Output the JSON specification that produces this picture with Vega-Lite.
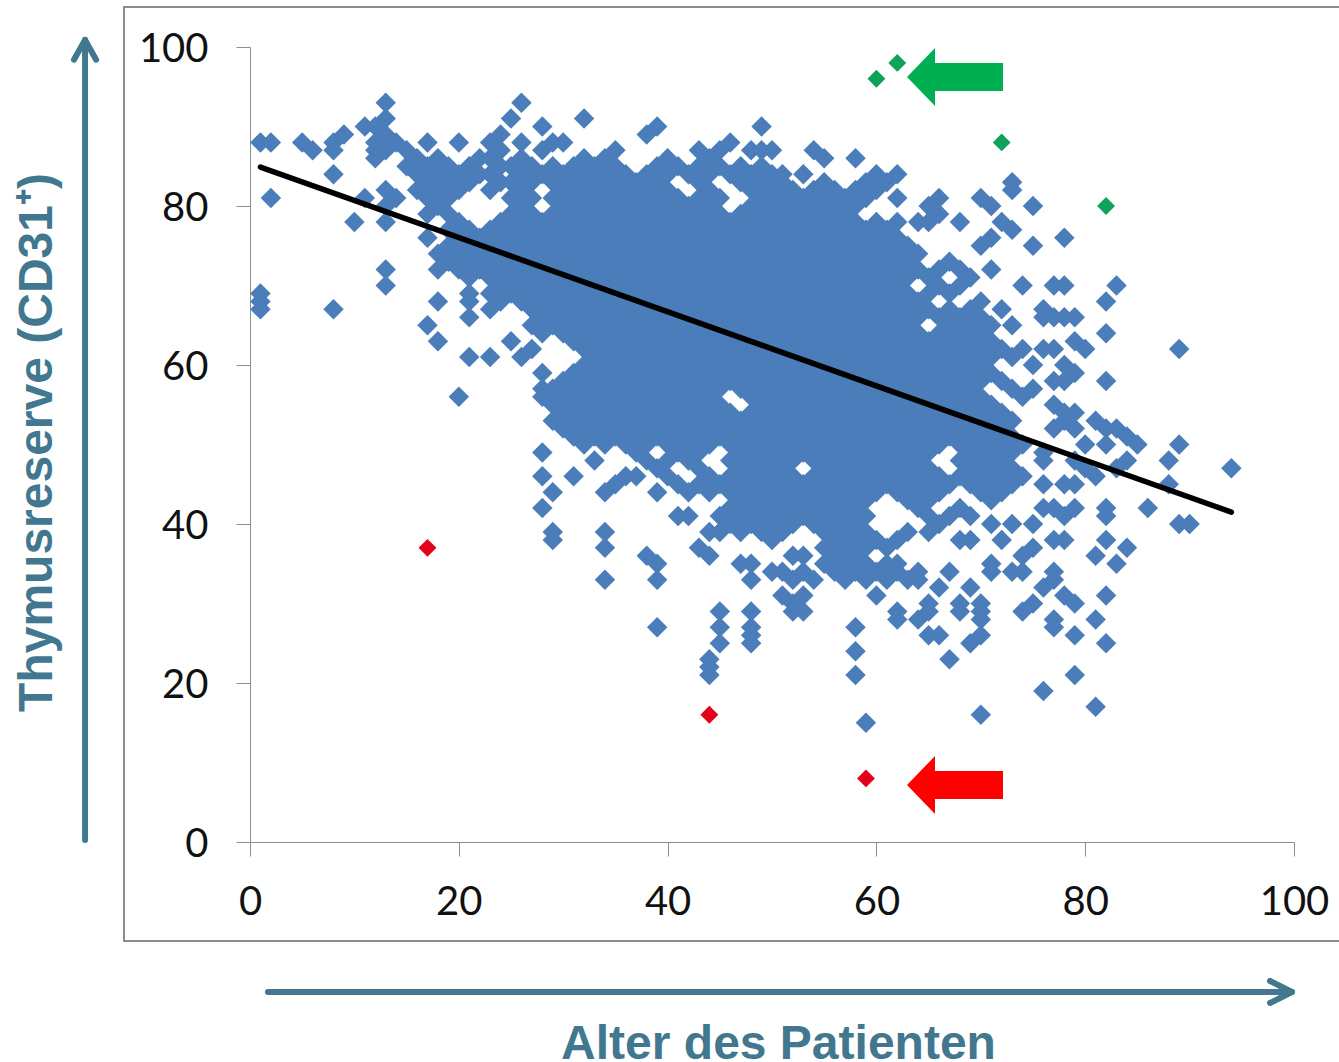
{"$schema":"https://vega.github.io/schema/vega-lite/v6.json","width":1044,"height":795,"autosize":"none","padding":{"left":250,"top":47,"right":45,"bottom":220},"background":"white","config":{"view":{"stroke":null}},
"datasets":{
"frame":[{"a":-12.07,"a2":115,"t":105.03,"t2":-12.45}],
"trend":[{"a":1,"t":84.9},{"a":94,"t":41.5}],
"marked":[{"a":60,"t":96,"s":"g"},{"a":62,"t":98,"s":"g"},{"a":72,"t":88,"s":"g"},{"a":82,"t":80,"s":"g"},{"a":17,"t":37,"s":"r"},{"a":44,"t":16,"s":"r"},{"a":59,"t":8,"s":"r"}],
"block":[{"a":67.53,"t":96.23,"s":"g2"},{"a":67.53,"t":7.17,"s":"r2"}],
"axisarrows":[{"a":1.72,"t":-18.87,"o":1,"k":"h"},{"a":99.8,"t":-18.87,"o":2,"k":"h"},{"a":97.7,"t":-17.48,"o":1,"k":"hh"},{"a":99.8,"t":-18.87,"o":2,"k":"hh"},{"a":97.7,"t":-20.25,"o":3,"k":"hh"},{"a":-15.8,"t":0.25,"o":1,"k":"v"},{"a":-15.8,"t":100.9,"o":2,"k":"v"},{"a":-16.86,"t":98.4,"o":1,"k":"vh"},{"a":-15.8,"t":100.9,"o":2,"k":"vh"},{"a":-14.74,"t":98.4,"o":3,"k":"vh"}],
"p":[
{"a":1,"t":88},{"a":1,"t":69},{"a":1,"t":68},{"a":1,"t":67},{"a":2,"t":88},{"a":2,"t":81},{"a":5,"t":88},{"a":6,"t":87},{"a":8,"t":88},{"a":8,"t":87},{"a":8,"t":84},{"a":8,"t":67},{"a":9,"t":89},{"a":10,"t":78},{"a":11,"t":90},{"a":11,"t":81},{"a":12,"t":90},{"a":12,"t":88},{"a":12,"t":87},{"a":12,"t":86},
{"a":13,"t":93},{"a":13,"t":91},{"a":13,"t":89},{"a":13,"t":87},{"a":13,"t":82},{"a":13,"t":80},{"a":13,"t":78},{"a":13,"t":72},{"a":13,"t":70},{"a":14,"t":88},{"a":14,"t":81},{"a":15,"t":87},{"a":15,"t":85},{"a":16,"t":86},{"a":16,"t":84},{"a":16,"t":82},
{"a":17,"t":88},{"a":17,"t":85},{"a":17,"t":83},{"a":17,"t":81},{"a":17,"t":79},{"a":17,"t":76},{"a":17,"t":65},{"a":18,"t":86},{"a":18,"t":84},{"a":18,"t":82},{"a":18,"t":80},{"a":18,"t":74},{"a":18,"t":72},{"a":18,"t":68},{"a":18,"t":63},
{"a":19,"t":85},{"a":19,"t":83},{"a":19,"t":81},{"a":19,"t":79},{"a":19,"t":77},{"a":19,"t":75},{"a":19,"t":73},{"a":20,"t":88},{"a":20,"t":84},{"a":20,"t":82},{"a":20,"t":78},{"a":20,"t":76},{"a":20,"t":74},{"a":20,"t":72},{"a":20,"t":56},
{"a":21,"t":85},{"a":21,"t":83},{"a":21,"t":77},{"a":21,"t":75},{"a":21,"t":73},{"a":21,"t":71},{"a":21,"t":69},{"a":21,"t":68},{"a":21,"t":66},{"a":21,"t":61},{"a":22,"t":86},{"a":22,"t":84},{"a":22,"t":76},{"a":22,"t":74},{"a":22,"t":72},
{"a":23,"t":88},{"a":23,"t":86},{"a":23,"t":84},{"a":23,"t":82},{"a":23,"t":77},{"a":23,"t":75},{"a":23,"t":73},{"a":23,"t":71},{"a":23,"t":69},{"a":23,"t":67},{"a":23,"t":61},
{"a":24,"t":89},{"a":24,"t":87},{"a":24,"t":85},{"a":24,"t":83},{"a":24,"t":78},{"a":24,"t":76},{"a":24,"t":74},{"a":24,"t":72},{"a":24,"t":70},{"a":24,"t":68},
{"a":25,"t":91},{"a":25,"t":85},{"a":25,"t":83},{"a":25,"t":81},{"a":25,"t":79},{"a":25,"t":77},{"a":25,"t":75},{"a":25,"t":73},{"a":25,"t":71},{"a":25,"t":69},{"a":25,"t":63},
{"a":26,"t":93},{"a":26,"t":88},{"a":26,"t":86},{"a":26,"t":84},{"a":26,"t":82},{"a":26,"t":80},{"a":26,"t":78},{"a":26,"t":76},{"a":26,"t":74},{"a":26,"t":72},{"a":26,"t":70},{"a":26,"t":68},{"a":26,"t":61},
{"a":27,"t":85},{"a":27,"t":83},{"a":27,"t":81},{"a":27,"t":79},{"a":27,"t":77},{"a":27,"t":75},{"a":27,"t":73},{"a":27,"t":71},{"a":27,"t":69},{"a":27,"t":67},{"a":27,"t":65},{"a":27,"t":62},
{"a":28,"t":90},{"a":28,"t":87},{"a":28,"t":84},{"a":28,"t":78},{"a":28,"t":76},{"a":28,"t":74},{"a":28,"t":72},{"a":28,"t":70},{"a":28,"t":68},{"a":28,"t":66},{"a":28,"t":64},{"a":28,"t":59},{"a":28,"t":57},{"a":28,"t":56},{"a":28,"t":49},{"a":28,"t":46},{"a":28,"t":42},
{"a":29,"t":88},{"a":29,"t":85},{"a":29,"t":83},{"a":29,"t":81},{"a":29,"t":79},{"a":29,"t":77},{"a":29,"t":75},{"a":29,"t":73},{"a":29,"t":71},{"a":29,"t":69},{"a":29,"t":67},{"a":29,"t":65},{"a":29,"t":57},{"a":29,"t":55},{"a":29,"t":53},{"a":29,"t":44},{"a":29,"t":39},{"a":29,"t":38},
{"a":30,"t":88},{"a":30,"t":84},{"a":30,"t":82},{"a":30,"t":80},{"a":30,"t":78},{"a":30,"t":76},{"a":30,"t":74},{"a":30,"t":72},{"a":30,"t":70},{"a":30,"t":68},{"a":30,"t":66},{"a":30,"t":64},{"a":30,"t":58},{"a":30,"t":56},{"a":30,"t":54},{"a":30,"t":52},
{"a":31,"t":85},{"a":31,"t":83},{"a":31,"t":81},{"a":31,"t":79},{"a":31,"t":77},{"a":31,"t":75},{"a":31,"t":73},{"a":31,"t":71},{"a":31,"t":69},{"a":31,"t":67},{"a":31,"t":65},{"a":31,"t":63},{"a":31,"t":59},{"a":31,"t":57},{"a":31,"t":55},{"a":31,"t":53},{"a":31,"t":51},{"a":31,"t":46},
{"a":32,"t":91},{"a":32,"t":86},{"a":32,"t":84},{"a":32,"t":82},{"a":32,"t":80},{"a":32,"t":78},{"a":32,"t":76},{"a":32,"t":74},{"a":32,"t":72},{"a":32,"t":70},{"a":32,"t":68},{"a":32,"t":66},{"a":32,"t":64},{"a":32,"t":62},{"a":32,"t":60},{"a":32,"t":58},{"a":32,"t":56},{"a":32,"t":54},{"a":32,"t":52},{"a":32,"t":50},
{"a":33,"t":85},{"a":33,"t":83},{"a":33,"t":81},{"a":33,"t":79},{"a":33,"t":77},{"a":33,"t":75},{"a":33,"t":73},{"a":33,"t":71},{"a":33,"t":69},{"a":33,"t":67},{"a":33,"t":65},{"a":33,"t":63},{"a":33,"t":61},{"a":33,"t":59},{"a":33,"t":57},{"a":33,"t":55},{"a":33,"t":53},{"a":33,"t":51},{"a":33,"t":48},
{"a":34,"t":86},{"a":34,"t":84},{"a":34,"t":82},{"a":34,"t":80},{"a":34,"t":78},{"a":34,"t":76},{"a":34,"t":74},{"a":34,"t":72},{"a":34,"t":70},{"a":34,"t":68},{"a":34,"t":66},{"a":34,"t":64},{"a":34,"t":62},{"a":34,"t":60},{"a":34,"t":58},{"a":34,"t":56},{"a":34,"t":54},{"a":34,"t":52},{"a":34,"t":50},{"a":34,"t":44},{"a":34,"t":39},{"a":34,"t":37},{"a":34,"t":33},
{"a":35,"t":87},{"a":35,"t":85},{"a":35,"t":83},{"a":35,"t":81},{"a":35,"t":79},{"a":35,"t":77},{"a":35,"t":75},{"a":35,"t":73},{"a":35,"t":71},{"a":35,"t":69},{"a":35,"t":67},{"a":35,"t":65},{"a":35,"t":63},{"a":35,"t":61},{"a":35,"t":59},{"a":35,"t":57},{"a":35,"t":55},{"a":35,"t":53},{"a":35,"t":51},{"a":35,"t":45},
{"a":36,"t":84},{"a":36,"t":82},{"a":36,"t":80},{"a":36,"t":78},{"a":36,"t":76},{"a":36,"t":74},{"a":36,"t":72},{"a":36,"t":70},{"a":36,"t":68},{"a":36,"t":66},{"a":36,"t":64},{"a":36,"t":62},{"a":36,"t":60},{"a":36,"t":58},{"a":36,"t":56},{"a":36,"t":54},{"a":36,"t":52},{"a":36,"t":50},{"a":36,"t":46},
{"a":37,"t":83},{"a":37,"t":81},{"a":37,"t":79},{"a":37,"t":77},{"a":37,"t":75},{"a":37,"t":73},{"a":37,"t":71},{"a":37,"t":69},{"a":37,"t":67},{"a":37,"t":65},{"a":37,"t":63},{"a":37,"t":61},{"a":37,"t":59},{"a":37,"t":57},{"a":37,"t":55},{"a":37,"t":53},{"a":37,"t":51},{"a":37,"t":49},{"a":37,"t":46},
{"a":38,"t":89},{"a":38,"t":84},{"a":38,"t":82},{"a":38,"t":80},{"a":38,"t":78},{"a":38,"t":76},{"a":38,"t":74},{"a":38,"t":72},{"a":38,"t":70},{"a":38,"t":68},{"a":38,"t":66},{"a":38,"t":64},{"a":38,"t":62},{"a":38,"t":60},{"a":38,"t":58},{"a":38,"t":56},{"a":38,"t":54},{"a":38,"t":52},{"a":38,"t":50},{"a":38,"t":48},{"a":38,"t":36},
{"a":39,"t":90},{"a":39,"t":85},{"a":39,"t":83},{"a":39,"t":81},{"a":39,"t":79},{"a":39,"t":77},{"a":39,"t":75},{"a":39,"t":73},{"a":39,"t":71},{"a":39,"t":69},{"a":39,"t":67},{"a":39,"t":65},{"a":39,"t":63},{"a":39,"t":61},{"a":39,"t":59},{"a":39,"t":57},{"a":39,"t":55},{"a":39,"t":53},{"a":39,"t":51},{"a":39,"t":47},{"a":39,"t":44},{"a":39,"t":35},{"a":39,"t":33},{"a":39,"t":27},
{"a":40,"t":86},{"a":40,"t":84},{"a":40,"t":82},{"a":40,"t":80},{"a":40,"t":78},{"a":40,"t":76},{"a":40,"t":74},{"a":40,"t":72},{"a":40,"t":70},{"a":40,"t":68},{"a":40,"t":66},{"a":40,"t":64},{"a":40,"t":62},{"a":40,"t":60},{"a":40,"t":58},{"a":40,"t":56},{"a":40,"t":54},{"a":40,"t":52},{"a":40,"t":50},{"a":40,"t":48},{"a":40,"t":46},
{"a":41,"t":85},{"a":41,"t":81},{"a":41,"t":79},{"a":41,"t":77},{"a":41,"t":75},{"a":41,"t":73},{"a":41,"t":71},{"a":41,"t":69},{"a":41,"t":67},{"a":41,"t":65},{"a":41,"t":63},{"a":41,"t":61},{"a":41,"t":59},{"a":41,"t":57},{"a":41,"t":55},{"a":41,"t":53},{"a":41,"t":51},{"a":41,"t":49},{"a":41,"t":45},{"a":41,"t":41},
{"a":42,"t":84},{"a":42,"t":80},{"a":42,"t":78},{"a":42,"t":76},{"a":42,"t":74},{"a":42,"t":72},{"a":42,"t":70},{"a":42,"t":68},{"a":42,"t":66},{"a":42,"t":64},{"a":42,"t":62},{"a":42,"t":60},{"a":42,"t":58},{"a":42,"t":56},{"a":42,"t":54},{"a":42,"t":52},{"a":42,"t":50},{"a":42,"t":48},{"a":42,"t":44},{"a":42,"t":41},
{"a":43,"t":87},{"a":43,"t":85},{"a":43,"t":83},{"a":43,"t":81},{"a":43,"t":79},{"a":43,"t":77},{"a":43,"t":75},{"a":43,"t":73},{"a":43,"t":71},{"a":43,"t":69},{"a":43,"t":67},{"a":43,"t":65},{"a":43,"t":63},{"a":43,"t":61},{"a":43,"t":59},{"a":43,"t":57},{"a":43,"t":55},{"a":43,"t":53},{"a":43,"t":51},{"a":43,"t":49},{"a":43,"t":47},{"a":43,"t":45},{"a":43,"t":37},
{"a":44,"t":86},{"a":44,"t":84},{"a":44,"t":82},{"a":44,"t":80},{"a":44,"t":78},{"a":44,"t":76},{"a":44,"t":74},{"a":44,"t":72},{"a":44,"t":70},{"a":44,"t":68},{"a":44,"t":66},{"a":44,"t":64},{"a":44,"t":62},{"a":44,"t":60},{"a":44,"t":58},{"a":44,"t":56},{"a":44,"t":54},{"a":44,"t":52},{"a":44,"t":50},{"a":44,"t":46},{"a":44,"t":44},{"a":44,"t":39},{"a":44,"t":36},{"a":44,"t":23},{"a":44,"t":22},{"a":44,"t":21},
{"a":45,"t":87},{"a":45,"t":85},{"a":45,"t":81},{"a":45,"t":79},{"a":45,"t":77},{"a":45,"t":75},{"a":45,"t":73},{"a":45,"t":71},{"a":45,"t":69},{"a":45,"t":67},{"a":45,"t":65},{"a":45,"t":63},{"a":45,"t":61},{"a":45,"t":59},{"a":45,"t":57},{"a":45,"t":55},{"a":45,"t":53},{"a":45,"t":51},{"a":45,"t":45},{"a":45,"t":41},{"a":45,"t":39},{"a":45,"t":29},{"a":45,"t":27},{"a":45,"t":25},
{"a":46,"t":88},{"a":46,"t":84},{"a":46,"t":78},{"a":46,"t":76},{"a":46,"t":74},{"a":46,"t":72},{"a":46,"t":70},{"a":46,"t":68},{"a":46,"t":66},{"a":46,"t":64},{"a":46,"t":62},{"a":46,"t":60},{"a":46,"t":58},{"a":46,"t":54},{"a":46,"t":52},{"a":46,"t":50},{"a":46,"t":48},{"a":46,"t":46},{"a":46,"t":44},{"a":46,"t":42},{"a":46,"t":40},
{"a":47,"t":85},{"a":47,"t":83},{"a":47,"t":79},{"a":47,"t":77},{"a":47,"t":75},{"a":47,"t":73},{"a":47,"t":71},{"a":47,"t":69},{"a":47,"t":67},{"a":47,"t":65},{"a":47,"t":63},{"a":47,"t":61},{"a":47,"t":59},{"a":47,"t":57},{"a":47,"t":53},{"a":47,"t":51},{"a":47,"t":49},{"a":47,"t":47},{"a":47,"t":45},{"a":47,"t":43},{"a":47,"t":41},{"a":47,"t":39},{"a":47,"t":35},
{"a":48,"t":87},{"a":48,"t":84},{"a":48,"t":82},{"a":48,"t":80},{"a":48,"t":78},{"a":48,"t":76},{"a":48,"t":74},{"a":48,"t":72},{"a":48,"t":70},{"a":48,"t":68},{"a":48,"t":66},{"a":48,"t":64},{"a":48,"t":62},{"a":48,"t":60},{"a":48,"t":58},{"a":48,"t":56},{"a":48,"t":54},{"a":48,"t":52},{"a":48,"t":50},{"a":48,"t":48},{"a":48,"t":46},{"a":48,"t":44},{"a":48,"t":42},{"a":48,"t":40},{"a":48,"t":35},{"a":48,"t":33},{"a":48,"t":29},{"a":48,"t":27},{"a":48,"t":26},{"a":48,"t":25},
{"a":49,"t":90},{"a":49,"t":87},{"a":49,"t":85},{"a":49,"t":83},{"a":49,"t":81},{"a":49,"t":79},{"a":49,"t":77},{"a":49,"t":75},{"a":49,"t":73},{"a":49,"t":71},{"a":49,"t":69},{"a":49,"t":67},{"a":49,"t":65},{"a":49,"t":63},{"a":49,"t":61},{"a":49,"t":59},{"a":49,"t":57},{"a":49,"t":55},{"a":49,"t":53},{"a":49,"t":51},{"a":49,"t":49},{"a":49,"t":47},{"a":49,"t":45},{"a":49,"t":43},{"a":49,"t":41},{"a":49,"t":39},
{"a":50,"t":87},{"a":50,"t":84},{"a":50,"t":82},{"a":50,"t":80},{"a":50,"t":78},{"a":50,"t":76},{"a":50,"t":74},{"a":50,"t":72},{"a":50,"t":70},{"a":50,"t":68},{"a":50,"t":66},{"a":50,"t":64},{"a":50,"t":62},{"a":50,"t":60},{"a":50,"t":58},{"a":50,"t":56},{"a":50,"t":54},{"a":50,"t":52},{"a":50,"t":50},{"a":50,"t":48},{"a":50,"t":46},{"a":50,"t":44},{"a":50,"t":42},{"a":50,"t":40},{"a":50,"t":38},{"a":50,"t":34},
{"a":51,"t":84},{"a":51,"t":83},{"a":51,"t":81},{"a":51,"t":79},{"a":51,"t":77},{"a":51,"t":75},{"a":51,"t":73},{"a":51,"t":71},{"a":51,"t":69},{"a":51,"t":67},{"a":51,"t":65},{"a":51,"t":63},{"a":51,"t":61},{"a":51,"t":59},{"a":51,"t":57},{"a":51,"t":55},{"a":51,"t":53},{"a":51,"t":51},{"a":51,"t":49},{"a":51,"t":47},{"a":51,"t":45},{"a":51,"t":43},{"a":51,"t":41},{"a":51,"t":39},{"a":51,"t":34},{"a":51,"t":31},
{"a":52,"t":82},{"a":52,"t":80},{"a":52,"t":78},{"a":52,"t":76},{"a":52,"t":74},{"a":52,"t":72},{"a":52,"t":70},{"a":52,"t":68},{"a":52,"t":66},{"a":52,"t":64},{"a":52,"t":62},{"a":52,"t":60},{"a":52,"t":58},{"a":52,"t":56},{"a":52,"t":54},{"a":52,"t":52},{"a":52,"t":50},{"a":52,"t":48},{"a":52,"t":46},{"a":52,"t":44},{"a":52,"t":42},{"a":52,"t":40},{"a":52,"t":36},{"a":52,"t":33},{"a":52,"t":30},{"a":52,"t":29},
{"a":53,"t":84},{"a":53,"t":81},{"a":53,"t":79},{"a":53,"t":77},{"a":53,"t":75},{"a":53,"t":73},{"a":53,"t":71},{"a":53,"t":69},{"a":53,"t":67},{"a":53,"t":65},{"a":53,"t":63},{"a":53,"t":61},{"a":53,"t":59},{"a":53,"t":57},{"a":53,"t":55},{"a":53,"t":53},{"a":53,"t":51},{"a":53,"t":49},{"a":53,"t":45},{"a":53,"t":43},{"a":53,"t":41},{"a":53,"t":36},{"a":53,"t":34},{"a":53,"t":31},{"a":53,"t":29},
{"a":54,"t":87},{"a":54,"t":82},{"a":54,"t":80},{"a":54,"t":78},{"a":54,"t":76},{"a":54,"t":74},{"a":54,"t":72},{"a":54,"t":70},{"a":54,"t":68},{"a":54,"t":66},{"a":54,"t":64},{"a":54,"t":62},{"a":54,"t":60},{"a":54,"t":58},{"a":54,"t":56},{"a":54,"t":54},{"a":54,"t":52},{"a":54,"t":50},{"a":54,"t":48},{"a":54,"t":46},{"a":54,"t":44},{"a":54,"t":42},{"a":54,"t":40},{"a":54,"t":33},
{"a":55,"t":86},{"a":55,"t":83},{"a":55,"t":81},{"a":55,"t":79},{"a":55,"t":77},{"a":55,"t":75},{"a":55,"t":73},{"a":55,"t":71},{"a":55,"t":69},{"a":55,"t":67},{"a":55,"t":65},{"a":55,"t":63},{"a":55,"t":61},{"a":55,"t":59},{"a":55,"t":57},{"a":55,"t":55},{"a":55,"t":53},{"a":55,"t":51},{"a":55,"t":49},{"a":55,"t":47},{"a":55,"t":45},{"a":55,"t":43},{"a":55,"t":41},{"a":55,"t":39},{"a":55,"t":37},{"a":55,"t":35},
{"a":56,"t":82},{"a":56,"t":80},{"a":56,"t":78},{"a":56,"t":76},{"a":56,"t":74},{"a":56,"t":72},{"a":56,"t":70},{"a":56,"t":68},{"a":56,"t":66},{"a":56,"t":64},{"a":56,"t":62},{"a":56,"t":60},{"a":56,"t":58},{"a":56,"t":56},{"a":56,"t":54},{"a":56,"t":52},{"a":56,"t":50},{"a":56,"t":48},{"a":56,"t":46},{"a":56,"t":44},{"a":56,"t":42},{"a":56,"t":40},{"a":56,"t":38},{"a":56,"t":36},{"a":56,"t":34},
{"a":57,"t":81},{"a":57,"t":79},{"a":57,"t":77},{"a":57,"t":75},{"a":57,"t":73},{"a":57,"t":71},{"a":57,"t":69},{"a":57,"t":67},{"a":57,"t":65},{"a":57,"t":63},{"a":57,"t":61},{"a":57,"t":59},{"a":57,"t":57},{"a":57,"t":55},{"a":57,"t":53},{"a":57,"t":51},{"a":57,"t":49},{"a":57,"t":47},{"a":57,"t":45},{"a":57,"t":43},{"a":57,"t":41},{"a":57,"t":39},{"a":57,"t":37},{"a":57,"t":35},{"a":57,"t":33},
{"a":58,"t":86},{"a":58,"t":82},{"a":58,"t":80},{"a":58,"t":78},{"a":58,"t":76},{"a":58,"t":74},{"a":58,"t":72},{"a":58,"t":70},{"a":58,"t":68},{"a":58,"t":66},{"a":58,"t":64},{"a":58,"t":62},{"a":58,"t":60},{"a":58,"t":58},{"a":58,"t":56},{"a":58,"t":54},{"a":58,"t":52},{"a":58,"t":50},{"a":58,"t":48},{"a":58,"t":46},{"a":58,"t":44},{"a":58,"t":42},{"a":58,"t":40},{"a":58,"t":38},{"a":58,"t":36},{"a":58,"t":34},{"a":58,"t":27},{"a":58,"t":24},{"a":58,"t":21},
{"a":59,"t":83},{"a":59,"t":81},{"a":59,"t":77},{"a":59,"t":75},{"a":59,"t":73},{"a":59,"t":71},{"a":59,"t":69},{"a":59,"t":67},{"a":59,"t":65},{"a":59,"t":63},{"a":59,"t":61},{"a":59,"t":59},{"a":59,"t":57},{"a":59,"t":55},{"a":59,"t":53},{"a":59,"t":51},{"a":59,"t":49},{"a":59,"t":47},{"a":59,"t":45},{"a":59,"t":43},{"a":59,"t":41},{"a":59,"t":39},{"a":59,"t":37},{"a":59,"t":35},{"a":59,"t":33},{"a":59,"t":15},
{"a":60,"t":84},{"a":60,"t":82},{"a":60,"t":78},{"a":60,"t":76},{"a":60,"t":74},{"a":60,"t":72},{"a":60,"t":70},{"a":60,"t":68},{"a":60,"t":66},{"a":60,"t":64},{"a":60,"t":62},{"a":60,"t":60},{"a":60,"t":58},{"a":60,"t":56},{"a":60,"t":54},{"a":60,"t":52},{"a":60,"t":50},{"a":60,"t":48},{"a":60,"t":46},{"a":60,"t":44},{"a":60,"t":38},{"a":60,"t":34},{"a":60,"t":31},
{"a":61,"t":83},{"a":61,"t":77},{"a":61,"t":75},{"a":61,"t":73},{"a":61,"t":71},{"a":61,"t":69},{"a":61,"t":67},{"a":61,"t":65},{"a":61,"t":63},{"a":61,"t":61},{"a":61,"t":59},{"a":61,"t":57},{"a":61,"t":55},{"a":61,"t":53},{"a":61,"t":51},{"a":61,"t":49},{"a":61,"t":47},{"a":61,"t":45},{"a":61,"t":37},{"a":61,"t":35},{"a":61,"t":33},
{"a":62,"t":84},{"a":62,"t":81},{"a":62,"t":78},{"a":62,"t":76},{"a":62,"t":74},{"a":62,"t":72},{"a":62,"t":70},{"a":62,"t":68},{"a":62,"t":66},{"a":62,"t":64},{"a":62,"t":62},{"a":62,"t":60},{"a":62,"t":58},{"a":62,"t":56},{"a":62,"t":54},{"a":62,"t":52},{"a":62,"t":50},{"a":62,"t":48},{"a":62,"t":46},{"a":62,"t":44},{"a":62,"t":38},{"a":62,"t":35},{"a":62,"t":34},{"a":62,"t":29},{"a":62,"t":28},
{"a":63,"t":75},{"a":63,"t":73},{"a":63,"t":71},{"a":63,"t":69},{"a":63,"t":67},{"a":63,"t":65},{"a":63,"t":63},{"a":63,"t":61},{"a":63,"t":59},{"a":63,"t":57},{"a":63,"t":55},{"a":63,"t":53},{"a":63,"t":51},{"a":63,"t":49},{"a":63,"t":47},{"a":63,"t":45},{"a":63,"t":43},{"a":63,"t":39},{"a":63,"t":33},
{"a":64,"t":78},{"a":64,"t":74},{"a":64,"t":72},{"a":64,"t":68},{"a":64,"t":66},{"a":64,"t":64},{"a":64,"t":62},{"a":64,"t":60},{"a":64,"t":58},{"a":64,"t":56},{"a":64,"t":54},{"a":64,"t":52},{"a":64,"t":50},{"a":64,"t":48},{"a":64,"t":46},{"a":64,"t":44},{"a":64,"t":42},{"a":64,"t":34},{"a":64,"t":33},{"a":64,"t":28},
{"a":65,"t":80},{"a":65,"t":78},{"a":65,"t":71},{"a":65,"t":69},{"a":65,"t":67},{"a":65,"t":63},{"a":65,"t":61},{"a":65,"t":59},{"a":65,"t":57},{"a":65,"t":55},{"a":65,"t":53},{"a":65,"t":51},{"a":65,"t":49},{"a":65,"t":47},{"a":65,"t":45},{"a":65,"t":43},{"a":65,"t":41},{"a":65,"t":39},{"a":65,"t":30},{"a":65,"t":29},{"a":65,"t":26},
{"a":66,"t":81},{"a":66,"t":79},{"a":66,"t":72},{"a":66,"t":70},{"a":66,"t":66},{"a":66,"t":64},{"a":66,"t":62},{"a":66,"t":60},{"a":66,"t":58},{"a":66,"t":56},{"a":66,"t":54},{"a":66,"t":52},{"a":66,"t":50},{"a":66,"t":46},{"a":66,"t":44},{"a":66,"t":40},{"a":66,"t":32},{"a":66,"t":26},
{"a":67,"t":73},{"a":67,"t":69},{"a":67,"t":67},{"a":67,"t":65},{"a":67,"t":63},{"a":67,"t":61},{"a":67,"t":59},{"a":67,"t":57},{"a":67,"t":55},{"a":67,"t":53},{"a":67,"t":51},{"a":67,"t":45},{"a":67,"t":41},{"a":67,"t":34},{"a":67,"t":23},
{"a":68,"t":78},{"a":68,"t":72},{"a":68,"t":70},{"a":68,"t":66},{"a":68,"t":64},{"a":68,"t":62},{"a":68,"t":60},{"a":68,"t":58},{"a":68,"t":56},{"a":68,"t":54},{"a":68,"t":52},{"a":68,"t":50},{"a":68,"t":48},{"a":68,"t":46},{"a":68,"t":42},{"a":68,"t":38},{"a":68,"t":30},{"a":68,"t":29},
{"a":69,"t":71},{"a":69,"t":67},{"a":69,"t":65},{"a":69,"t":63},{"a":69,"t":61},{"a":69,"t":59},{"a":69,"t":57},{"a":69,"t":55},{"a":69,"t":53},{"a":69,"t":51},{"a":69,"t":49},{"a":69,"t":47},{"a":69,"t":45},{"a":69,"t":41},{"a":69,"t":38},{"a":69,"t":32},{"a":69,"t":25},
{"a":70,"t":81},{"a":70,"t":75},{"a":70,"t":68},{"a":70,"t":66},{"a":70,"t":64},{"a":70,"t":62},{"a":70,"t":60},{"a":70,"t":58},{"a":70,"t":56},{"a":70,"t":54},{"a":70,"t":52},{"a":70,"t":50},{"a":70,"t":48},{"a":70,"t":46},{"a":70,"t":44},{"a":70,"t":30},{"a":70,"t":29},{"a":70,"t":28},{"a":70,"t":26},{"a":70,"t":16},
{"a":71,"t":80},{"a":71,"t":76},{"a":71,"t":72},{"a":71,"t":65},{"a":71,"t":63},{"a":71,"t":61},{"a":71,"t":59},{"a":71,"t":55},{"a":71,"t":53},{"a":71,"t":51},{"a":71,"t":49},{"a":71,"t":47},{"a":71,"t":45},{"a":71,"t":43},{"a":71,"t":40},{"a":71,"t":35},{"a":71,"t":34},
{"a":72,"t":78},{"a":72,"t":67},{"a":72,"t":62},{"a":72,"t":58},{"a":72,"t":54},{"a":72,"t":52},{"a":72,"t":50},{"a":72,"t":48},{"a":72,"t":46},{"a":72,"t":44},{"a":72,"t":38},
{"a":73,"t":83},{"a":73,"t":82},{"a":73,"t":77},{"a":73,"t":65},{"a":73,"t":61},{"a":73,"t":57},{"a":73,"t":53},{"a":73,"t":51},{"a":73,"t":49},{"a":73,"t":47},{"a":73,"t":45},{"a":73,"t":40},{"a":73,"t":34},
{"a":74,"t":70},{"a":74,"t":62},{"a":74,"t":56},{"a":74,"t":50},{"a":74,"t":46},{"a":74,"t":36},{"a":74,"t":34},{"a":74,"t":29},
{"a":75,"t":80},{"a":75,"t":75},{"a":75,"t":60},{"a":75,"t":57},{"a":75,"t":40},{"a":75,"t":37},{"a":75,"t":30},
{"a":76,"t":67},{"a":76,"t":66},{"a":76,"t":62},{"a":76,"t":49},{"a":76,"t":48},{"a":76,"t":45},{"a":76,"t":42},{"a":76,"t":32},{"a":76,"t":19},
{"a":77,"t":70},{"a":77,"t":66},{"a":77,"t":62},{"a":77,"t":58},{"a":77,"t":55},{"a":77,"t":52},{"a":77,"t":42},{"a":77,"t":38},{"a":77,"t":34},{"a":77,"t":33},{"a":77,"t":28},{"a":77,"t":27},
{"a":78,"t":76},{"a":78,"t":70},{"a":78,"t":66},{"a":78,"t":60},{"a":78,"t":58},{"a":78,"t":54},{"a":78,"t":53},{"a":78,"t":45},{"a":78,"t":41},{"a":78,"t":38},{"a":78,"t":31},
{"a":79,"t":66},{"a":79,"t":63},{"a":79,"t":59},{"a":79,"t":54},{"a":79,"t":52},{"a":79,"t":48},{"a":79,"t":45},{"a":79,"t":42},{"a":79,"t":30},{"a":79,"t":26},{"a":79,"t":21},
{"a":80,"t":62},{"a":80,"t":50},{"a":80,"t":47},{"a":81,"t":53},{"a":81,"t":46},{"a":81,"t":36},{"a":81,"t":28},{"a":81,"t":17},
{"a":82,"t":68},{"a":82,"t":64},{"a":82,"t":58},{"a":82,"t":52},{"a":82,"t":50},{"a":82,"t":42},{"a":82,"t":41},{"a":82,"t":38},{"a":82,"t":31},{"a":82,"t":25},
{"a":83,"t":70},{"a":83,"t":52},{"a":83,"t":47},{"a":83,"t":35},{"a":84,"t":51},{"a":84,"t":48},{"a":84,"t":37},{"a":85,"t":50},{"a":86,"t":42},{"a":88,"t":48},{"a":88,"t":45},{"a":89,"t":62},{"a":89,"t":50},{"a":89,"t":40},{"a":90,"t":40},{"a":94,"t":47}
]},
"encoding":{
"x":{"field":"a","type":"quantitative","scale":{"domain":[0,100],"nice":false,"zero":false},"axis":{"values":[0,20,40,60,80,100],"grid":false,"domainColor":"#8e8e8e","tickColor":"#8e8e8e","tickSize":14,"labelPadding":26,"labelFont":"Lato","labelFontSize":40,"labelColor":"#111111","labelFlush":false,"labelOverlap":false,"title":"Alter des Patienten","titleFont":"Liberation Sans","titleFontWeight":"bold","titleFontSize":48,"titleColor":"#41778f","titleX":528,"titleY":216,"titleAlign":"center","titleBaseline":"alphabetic"}},
"y":{"field":"t","type":"quantitative","scale":{"domain":[0,100],"nice":false,"zero":false},"axis":{"values":[0,20,40,60,80,100],"grid":false,"domainColor":"#8e8e8e","tickColor":"#8e8e8e","tickSize":14,"labelPadding":28,"labelOffset":2,"labelFont":"Lato","labelFontSize":40,"labelColor":"#111111","labelFlush":false,"labelOverlap":false,"title":"Thymusreserve (CD31⁺)","titleFont":"Liberation Sans","titleFontWeight":"bold","titleFontSize":48,"titleColor":"#41778f","titleAngle":-90,"titleX":-199,"titleY":395,"titleAlign":"center","titleBaseline":"alphabetic"}}
},
"layer":[
{"data":{"name":"frame"},"mark":{"type":"rect","fill":null,"stroke":"#8c8c8c","strokeWidth":2},"encoding":{"x2":{"field":"a2"},"y2":{"field":"t2"}}},
{"data":{"name":"p"},"mark":{"type":"point","shape":"diamond","filled":true,"size":420,"opacity":1,"color":"#4a7dba"}},
{"data":{"name":"marked"},"mark":{"type":"point","shape":"diamond","filled":true,"size":320,"opacity":1},"encoding":{"color":{"field":"s","type":"nominal","scale":{"domain":["g","r","g2","r2"],"range":["#0fa35a","#e3001b","#00b050","#ff0000"]},"legend":null}}},
{"data":{"name":"trend"},"mark":{"type":"line","color":"#000000","strokeWidth":5.5,"strokeCap":"round"}},
{"data":{"name":"block"},"mark":{"type":"point","shape":"M-0.96,0L-0.4,-0.58L-0.4,-0.28L0.96,-0.28L0.96,0.28L-0.4,0.28L-0.4,0.58Z","filled":true,"size":10000,"opacity":1},"encoding":{"color":{"field":"s","type":"nominal","legend":null}}},
{"data":{"name":"axisarrows"},"mark":{"type":"line","color":"#41778f","strokeWidth":6,"strokeCap":"round","strokeJoin":"round"},"encoding":{"detail":{"field":"k"},"order":{"field":"o","type":"quantitative"}}}
]}
